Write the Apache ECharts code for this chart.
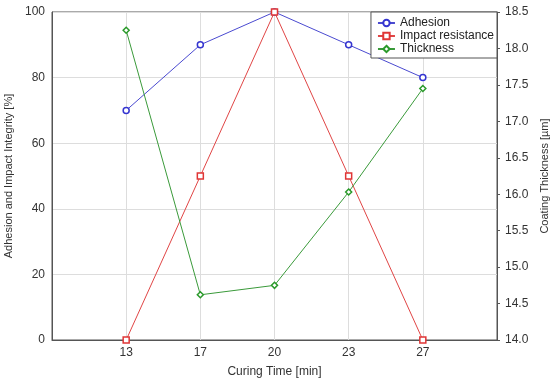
<!DOCTYPE html>
<html><head><meta charset="utf-8">
<script src="https://cdn.jsdelivr.net/npm/echarts@6/dist/echarts.min.js"></script>
<style>html,body{margin:0;padding:0;background:#fff}#c{width:550px;height:379px}</style>
</head><body><div id="c"></div>
<script>
const categories = ['', '13', '17', '20', '23', '27', ''];
const adhesion = [null, 70, 90, 100, 90, 80, null];
const impact = [null, 0, 50, 100, 50, 0, null];
const thickness = [null, 18.25, 14.62, 14.75, 16.03, 17.45, null];

const chart = echarts.init(document.getElementById('c'));
const font = 'Liberation Sans, Arial, sans-serif';
chart.setOption({
  animation: false,
  textStyle: {fontFamily: font},
  grid: {left: 52, right: 53, top: 12, bottom: 39, show: true, borderColor: '#555', borderWidth: 1, outerBoundsMode: 'none', containLabel: false},
  legend: {
    right: 53, top: 12, orient: 'vertical', itemGap: 1, itemWidth: 17, itemHeight: 8,
    borderColor: '#555', borderWidth: 1, padding: [5, 3, 3, 6], backgroundColor: '#fff',
    textStyle: {fontSize: 12, color: '#222', fontFamily: font},
    data: ['Adhesion', 'Impact resistance', 'Thickness']
  },
  xAxis: {
    type: 'category', data: categories, boundaryGap: false,
    name: 'Curing Time [min]', nameLocation: 'middle', nameGap: 26,
    nameTextStyle: {fontSize: 12, color: '#333'},
    axisLine: {lineStyle: {color: '#555'}},
    axisTick: {show: false},
    axisLabel: {fontSize: 12, color: '#333', margin: 7},
    splitLine: {show: true, lineStyle: {color: '#ddd'}}
  },
  yAxis: [{
    type: 'value', min: 0, max: 100, interval: 20,
    name: 'Adhesion and Impact Integrity [%]', nameLocation: 'middle', nameGap: 34,
    nameTextStyle: {fontSize: 11, color: '#333'},
    axisLine: {show: true, lineStyle: {color: '#555'}},
    axisTick: {show: false},
    axisLabel: {fontSize: 12, color: '#333', margin: 7},
    splitLine: {show: true, lineStyle: {color: '#ddd'}}
  }, {
    type: 'value', min: 14, max: 18.5, interval: 0.5, position: 'right',
    name: 'Coating Thickness [µm]', nameLocation: 'middle', nameGap: 39,
    nameTextStyle: {fontSize: 11, color: '#333'},
    axisLine: {show: true, lineStyle: {color: '#555'}},
    axisTick: {show: true, length: 3, lineStyle: {color: '#555'}},
    axisLabel: {fontSize: 12, color: '#333', margin: 8, formatter: v => v.toFixed(1)},
    splitLine: {show: false}
  }],
  series: [{
    name: 'Adhesion', type: 'line', data: adhesion, yAxisIndex: 0,
    symbol: 'circle', symbolSize: 6, color: '#3535d0',
    lineStyle: {width: 1, color: '#4a4ad0'},
    itemStyle: {color: '#fff', borderColor: '#3535d0', borderWidth: 1.5}
  }, {
    name: 'Impact resistance', type: 'line', data: impact, yAxisIndex: 0,
    symbol: 'rect', symbolSize: 6, color: '#e03535',
    lineStyle: {width: 1, color: '#e04545'},
    itemStyle: {color: '#fff', borderColor: '#e03535', borderWidth: 1.5}
  }, {
    name: 'Thickness', type: 'line', data: thickness, yAxisIndex: 1,
    symbol: 'diamond', symbolSize: 6, color: '#2a9a2a',
    lineStyle: {width: 1, color: '#3a9a3a'},
    itemStyle: {color: '#fff', borderColor: '#2a9a2a', borderWidth: 1.5}
  }]
});
</script></body></html>
